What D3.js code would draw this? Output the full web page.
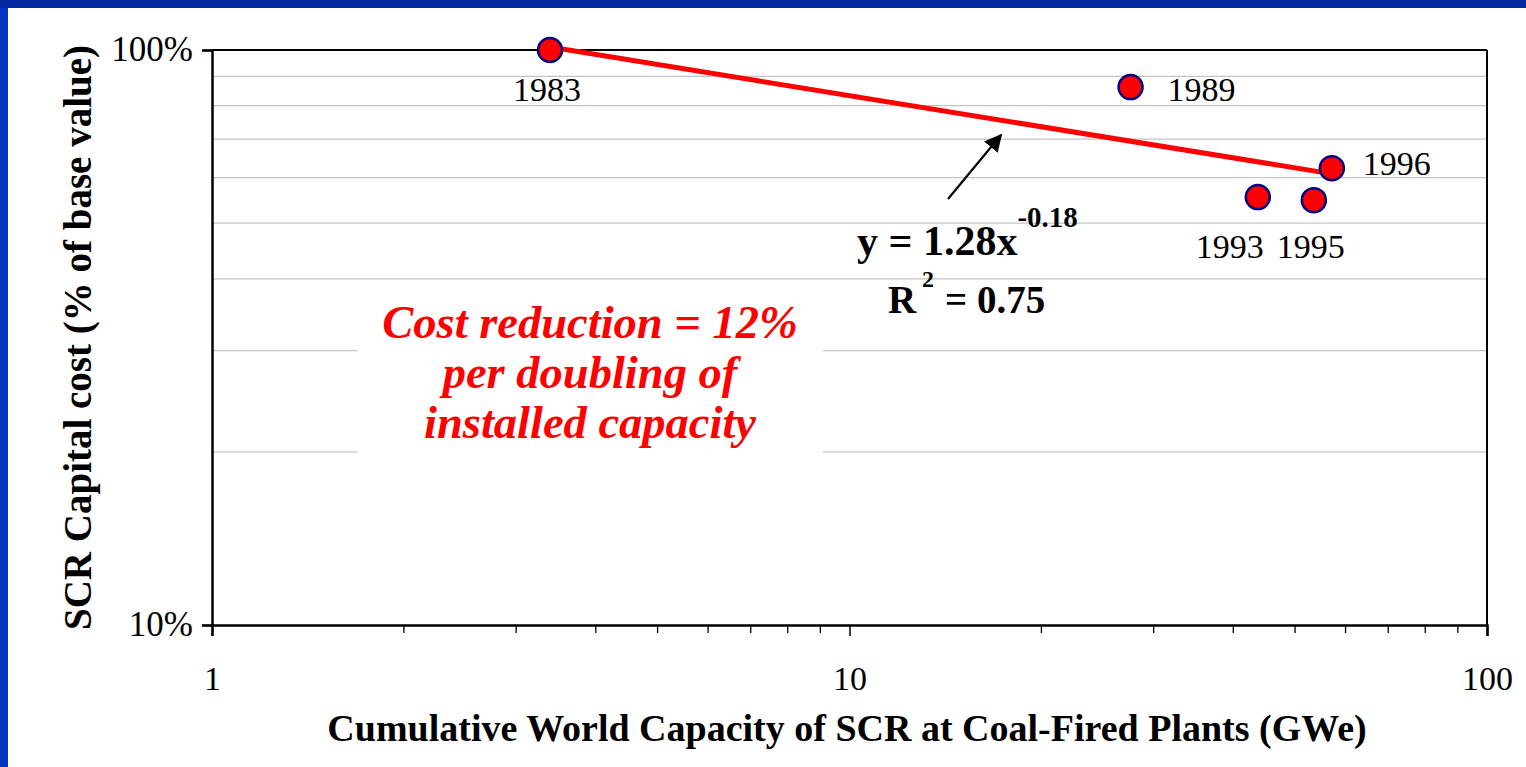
<!DOCTYPE html>
<html>
<head>
<meta charset="utf-8">
<script src="https://cdn.jsdelivr.net/npm/d3@7"></script>
<style>
    html, body { margin: 0; padding: 0; background: #fff; }
    svg { display: block; }
    svg text { font-family: 'Liberation Serif', 'Times New Roman', Times, 'DejaVu Serif', serif !important; }
</style>
</head>
<body>
<svg id="chart"></svg>
<script>
// --- DATA ---
const years = ['1983', '1989', '1993', '1995', '1996'];
const capacity = [3.39, 27.6, 43.7, 53.5, 57.1];       // GWe
const costShare = [1.0, 0.862, 0.555, 0.548, 0.623];   // fraction of base value
const trendX = [3.39, 57.1];
const trendY = [1.012, 0.609];
const xTicks = [1, 10, 100];
const yTicks = [0.1, 1];
const yGrid = [0.2, 0.3, 0.4, 0.5, 0.6, 0.7, 0.8, 0.9];

// --- SETUP ---
const width = 1526;
const height = 767;
const svg = d3.select('#chart')
    .attr('width', width)
    .attr('height', height);

svg.append('rect').attr('width', width).attr('height', height).attr('fill', '#fff');
// slide frame
svg.append('rect').attr('x', 0).attr('y', 0).attr('width', 8).attr('height', height).attr('fill', '#0533c4');
svg.append('rect').attr('x', 0).attr('y', 0).attr('width', width).attr('height', 8).attr('fill', '#0029a0');

const plot = { left: 212, right: 1487, top: 50, bottom: 625 };

const x = d3.scaleLog().domain([1, 100]).range([plot.left, plot.right]);
const y = d3.scaleLog().domain([0.1, 1]).range([plot.bottom, plot.top]);

// --- GRID ---
svg.append('g')
    .selectAll('line')
    .data(yGrid)
    .enter().append('line')
    .attr('x1', plot.left).attr('x2', plot.right)
    .attr('y1', d => y(d)).attr('y2', d => y(d))
    .attr('stroke', '#c4c4c4')
    .attr('stroke-width', 1.2);

// white box behind the red note
svg.append('rect')
    .attr('x', 357).attr('y', 292)
    .attr('width', 466).attr('height', 166)
    .attr('fill', '#fff');

// plot frame top / right
svg.append('line')
    .attr('x1', plot.left).attr('x2', plot.right)
    .attr('y1', plot.top).attr('y2', plot.top)
    .attr('stroke', '#000').attr('stroke-width', 2);
svg.append('line')
    .attr('x1', plot.right).attr('x2', plot.right)
    .attr('y1', plot.top).attr('y2', plot.bottom)
    .attr('stroke', '#000').attr('stroke-width', 2);

// --- AXES ---
const xMinor = x.ticks().filter(d => !xTicks.includes(d));

const xAxis = svg.append('g')
    .attr('transform', `translate(0,${plot.bottom})`)
    .call(d3.axisBottom(x).tickValues(xTicks).tickFormat(d3.format('d')).tickSize(11).tickPadding(30));
xAxis.attr('font-family', null);
xAxis.select('.domain').attr('stroke-width', 2.5);
xAxis.selectAll('.tick line').attr('stroke-width', 1.5);
xAxis.selectAll('text')
    .attr('font-size', 34)
    .attr('fill', '#000');

svg.append('g')
    .selectAll('line')
    .data(xMinor)
    .enter().append('line')
    .attr('x1', d => x(d)).attr('x2', d => x(d))
    .attr('y1', plot.bottom).attr('y2', plot.bottom + 8)
    .attr('stroke', '#000').attr('stroke-width', 1.3);

const yAxis = svg.append('g')
    .attr('transform', `translate(${plot.left},0)`)
    .call(d3.axisLeft(y).tickValues(yTicks).tickFormat(d3.format('.0%')).tickSize(10).tickPadding(9));
yAxis.attr('font-family', null);
yAxis.select('.domain').attr('stroke-width', 2.5);
yAxis.selectAll('.tick line').attr('stroke-width', 1.5);
yAxis.selectAll('text')
    .attr('font-size', 35)
    .attr('fill', '#000')
    .attr('dy', '0.3em');

// axis titles
svg.append('text')
    .attr('x', 847)
    .attr('y', 741)
    .attr('text-anchor', 'middle')
    .attr('font-size', 38)
    .attr('font-weight', 'bold')
    .text('Cumulative World Capacity of SCR at Coal-Fired Plants (GWe)');

svg.append('text')
    .attr('transform', `translate(91,${(plot.top + plot.bottom) / 2}) rotate(-90)`)
    .attr('text-anchor', 'middle')
    .attr('font-size', 39)
    .attr('font-weight', 'bold')
    .text('SCR Capital cost (% of base value)');

// --- TREND LINE ---
const trend = trendX.map((d, i) => [d, trendY[i]]);
svg.append('path')
    .datum(trend)
    .attr('d', d3.line().x(d => x(d[0])).y(d => y(d[1])))
    .attr('fill', 'none')
    .attr('stroke', '#ff0000')
    .attr('stroke-width', 5);

// --- POINTS ---
const points = years.map((yr, i) => ({ year: yr, cap: capacity[i], cost: costShare[i] }));

svg.append('g')
    .selectAll('circle')
    .data(points)
    .enter().append('circle')
    .attr('cx', d => x(d.cap))
    .attr('cy', d => y(d.cost))
    .attr('r', 12)
    .attr('fill', '#ff0000')
    .attr('stroke', '#000080')
    .attr('stroke-width', 2.5);

// year labels (offsets relative to each point)
const labelOffsets = {
    '1983': { dx: -3, dy: 51, anchor: 'middle' },
    '1989': { dx: 37, dy: 14, anchor: 'start' },
    '1993': { dx: -28, dy: 61, anchor: 'middle' },
    '1995': { dx: -3, dy: 58, anchor: 'middle' },
    '1996': { dx: 31, dy: 7, anchor: 'start' }
};

svg.append('g')
    .selectAll('text')
    .data(points)
    .enter().append('text')
    .attr('x', d => x(d.cap) + labelOffsets[d.year].dx)
    .attr('y', d => y(d.cost) + labelOffsets[d.year].dy)
    .attr('text-anchor', d => labelOffsets[d.year].anchor)
    .attr('font-size', 34)
    .text(d => d.year);

// --- ANNOTATIONS ---
svg.append('defs').append('marker')
    .attr('id', 'arrow')
    .attr('viewBox', '0 0 10 10')
    .attr('refX', 9).attr('refY', 5)
    .attr('markerWidth', 8).attr('markerHeight', 8)
    .attr('markerUnits', 'strokeWidth')
    .attr('orient', 'auto')
    .append('path')
    .attr('d', 'M0,0 L10,5 L0,10 z')
    .attr('fill', '#000');

svg.append('line')
    .attr('x1', 948).attr('y1', 199)
    .attr('x2', 1001).attr('y2', 135)
    .attr('stroke', '#000')
    .attr('stroke-width', 2.2)
    .attr('marker-end', 'url(#arrow)');

const eq = svg.append('text')
    .attr('x', 857).attr('y', 255)
    .attr('font-size', 42)
    .attr('font-weight', 'bold');
eq.append('tspan').text('y = 1.28x');
eq.append('tspan').attr('font-size', 29).attr('dy', -28).text('-0.18');

const r2 = svg.append('text')
    .attr('y', 313)
    .attr('font-size', 39)
    .attr('font-weight', 'bold');
r2.append('tspan').attr('x', 888).text('R');
r2.append('tspan').attr('x', 922).attr('dy', -26).attr('font-size', 24).text('2');
r2.append('tspan').attr('x', 945).attr('dy', 26).text('= 0.75');

const noteLines = ['Cost reduction = 12%', 'per doubling of', 'installed capacity'];
svg.append('g')
    .selectAll('text')
    .data(noteLines)
    .enter().append('text')
    .attr('x', 590)
    .attr('y', (d, i) => 338 + i * 50)
    .attr('text-anchor', 'middle')
    .attr('font-size', 46.5)
    .attr('font-weight', 'bold')
    .attr('font-style', 'italic')
    .attr('fill', '#ff0000')
    .text(d => d);
</script>
</body>
</html>
